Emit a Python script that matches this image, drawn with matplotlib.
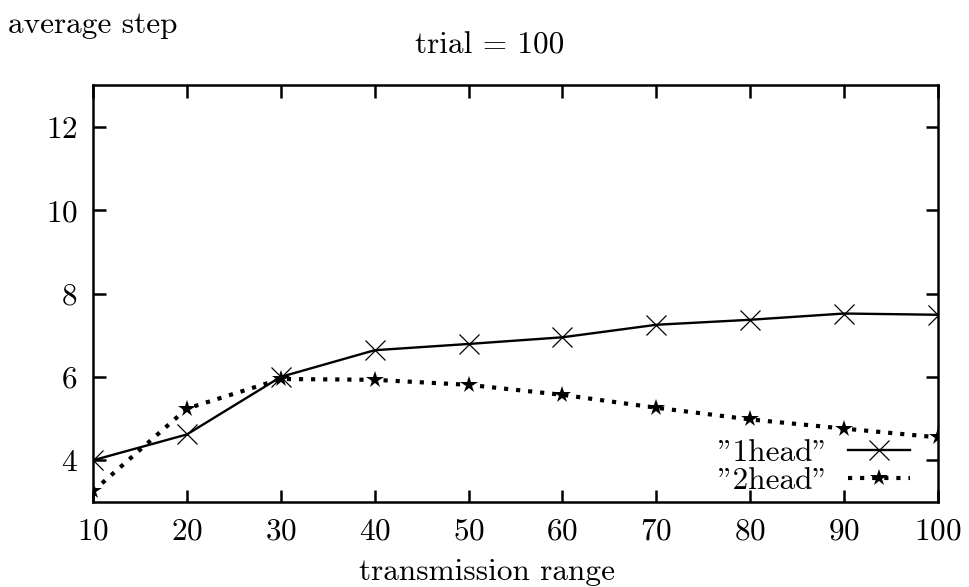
import numpy as np
import matplotlib.pyplot as plt

# transmission range and average step for the two methods
trange = [10, 20, 30, 40, 50, 60, 70, 80, 90, 100]
head1 = [4.0, 4.62, 6.0, 6.64, 6.79, 6.95, 7.25, 7.37, 7.52, 7.49]
head2 = [3.26, 5.24, 5.95, 5.93, 5.81, 5.57, 5.26, 4.98, 4.76, 4.55]

xticks = [10, 20, 30, 40, 50, 60, 70, 80, 90, 100]
yticks = [4, 6, 8, 10, 12]

plt.rcParams['font.family'] = ['cmr10', 'DejaVu Serif']
plt.rcParams['font.size'] = 22.5
plt.rcParams['axes.formatter.use_mathtext'] = True

fig = plt.figure(figsize=(9.69, 5.87), dpi=100)
ax = fig.add_axes([93/969, 85/587, 845/969, 417/587])

ax.plot(trange, head1, color='black', lw=1.7, marker='x', ms=14,
        mew=0.9, label='"1head"')
ax.plot(trange, head2, color='black', lw=3, ls=(0, (1, 1.9)), marker='*',
        ms=13, mew=0, label='"2head"')

ax.set_xlim(10, 100)
ax.set_ylim(3, 13)
ax.set_xticks(xticks)
ax.set_yticks(yticks)
for s in ax.spines.values():
    s.set_linewidth(1.8)
ax.tick_params(direction='in', length=9, width=1.8, top=True, right=True, pad=11)

ax.legend(loc='lower right', bbox_to_anchor=(0.993, -0.035), frameon=False,
          markerfirst=False, handlelength=2.0, handletextpad=0.6,
          labelspacing=0.0, borderpad=0.2)

fig.text(0.008, 0.958, 'average step', ha='left', va='center')
fig.text(0.505, 0.923, 'trial = 100', ha='center', va='center')
fig.text(0.503, 0.025, 'transmission range', ha='center', va='center')

fig.savefig('out.png', dpi=100)
